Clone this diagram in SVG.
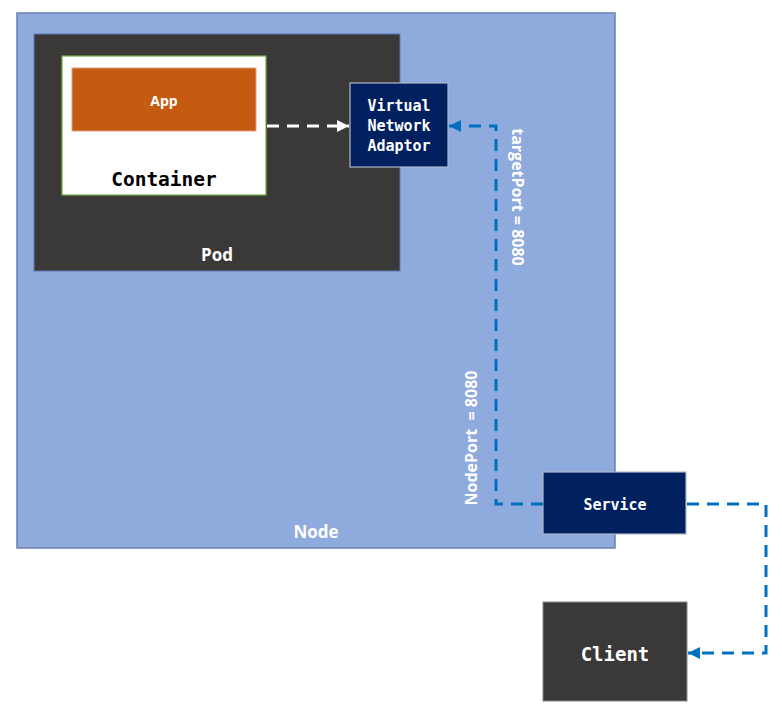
<svg xmlns="http://www.w3.org/2000/svg" width="782" height="719" viewBox="0 0 782 719">
<style>
.sans{font-family:"Open Sans","Liberation Sans",sans-serif;font-weight:bold;fill:#fff;text-anchor:middle;dominant-baseline:central}
.mono{font-family:"DejaVu Sans Mono","Liberation Mono",monospace;font-weight:bold;text-anchor:middle;dominant-baseline:central}
.blue{fill:none;stroke:#0070c0;stroke-width:3;stroke-dasharray:12 8}
</style>
<defs>
<marker id="aw" viewBox="0 0 10 10" refX="10" refY="5" markerWidth="4" markerHeight="4" orient="auto"><path d="M0,0L10,5L0,10z" fill="#fff"/></marker>
<marker id="ab" viewBox="0 0 10 10" refX="10" refY="5" markerWidth="4" markerHeight="4" orient="auto"><path d="M0,0L10,5L0,10z" fill="#0070c0"/></marker>
</defs>
<g id="node">
<rect x="17" y="13" width="598" height="535" fill="#8faadc" stroke="#6a80ad" stroke-width="1.5"/>
<text class="sans" x="316" y="531" font-size="17">Node</text>
</g>
<g id="pod">
<rect x="34" y="34" width="366" height="237" fill="#3a3937" stroke="#5b7cb8" stroke-width="1"/>
<text class="sans" x="217" y="254" font-size="17">Pod</text>
</g>
<g id="container">
<rect x="62" y="56" width="204" height="139" fill="#fff" stroke="#70ad47" stroke-width="1.2"/>
<text class="mono" x="164" y="179" font-size="19.5" fill="#000">Container</text>
</g>
<g id="app">
<rect x="72" y="68" width="184" height="63" fill="#c55a11" stroke="#e0a080" stroke-width="1"/>
<text class="sans" x="164" y="100" font-size="14">App</text>
</g>
<g id="vna">
<rect x="350" y="83" width="98" height="84" fill="#002060" stroke="#b0b8c8" stroke-width="1.2"/>
<text class="mono" x="399" y="106" font-size="15" fill="#fff">Virtual</text>
<text class="mono" x="399" y="126" font-size="15" fill="#fff">Network</text>
<text class="mono" x="399" y="146" font-size="15" fill="#fff">Adaptor</text>
</g>
<g id="service">
<rect x="543" y="472" width="143" height="62" fill="#002060" stroke="#b0b8c8" stroke-width="1.2"/>
<text class="mono" x="615" y="505" font-size="15" fill="#fff">Service</text>
</g>
<g id="client">
<rect x="543" y="602" width="144" height="99" fill="#3a3937" stroke="#888" stroke-width="1"/>
<text class="mono" x="615" y="654" font-size="19" fill="#fff">Client</text>
</g>
<g id="connectors">
<path d="M267,126H349" fill="none" stroke="#fff" stroke-width="3" stroke-dasharray="12 8" marker-end="url(#aw)"/>
<path class="blue" d="M543,504H496V126H449" marker-end="url(#ab)"/>
<path class="blue" d="M687,504H766V653H688" marker-end="url(#ab)"/>
</g>
<g id="labels">
<text class="sans" font-size="16" transform="translate(518,197) rotate(90)">targetPort = 8080</text>
<text class="sans" font-size="16" transform="translate(471,438) rotate(-90)" xml:space="preserve">NodePort  = 8080</text>
</g>
</svg>
